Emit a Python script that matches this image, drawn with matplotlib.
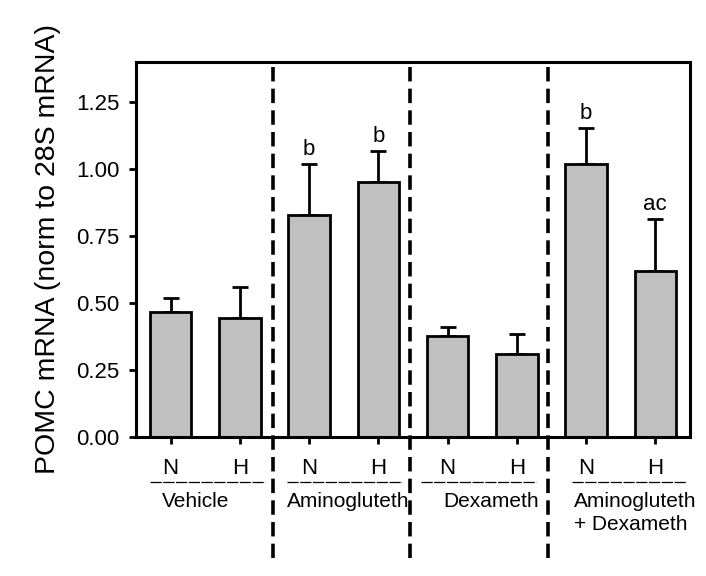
import numpy as np
import matplotlib
matplotlib.use('Agg')
import matplotlib.pyplot as plt

plt.rcParams['font.family'] = ['Liberation Sans', 'DejaVu Sans']

# Data
bar_labels = ['N', 'H', 'N', 'H', 'N', 'H', 'N', 'H']
values = [0.467, 0.445, 0.828, 0.953, 0.378, 0.311, 1.019, 0.619]
errors = [0.053, 0.116, 0.192, 0.113, 0.034, 0.074, 0.135, 0.196]
letters = ['', '', 'b', 'b', '', '', 'b', 'ac']
groups = ['Vehicle', 'Aminogluteth', 'Dexameth', 'Aminogluteth\n+ Dexameth']
yticks = [0.0, 0.25, 0.5, 0.75, 1.0, 1.25]

x = np.arange(len(values))

fig = plt.figure(figsize=(7.06, 5.76), dpi=100)
ax = fig.add_axes([0.1926, 0.2413, 0.7847, 0.6511])

ax.bar(x, values, width=0.6, color='#c0c0c0', edgecolor='black', linewidth=2, zorder=2)
ax.errorbar(x, values, yerr=[np.zeros(len(errors)), errors], fmt='none', ecolor='black',
            elinewidth=2, capsize=6, capthick=2, zorder=1)

for xi, v, e, t in zip(x, values, errors, letters):
    if t:
        ax.text(xi, v + e + 0.015, t, ha='center', va='bottom', fontsize=16)

ax.set_xlim(-0.5, 7.5)
ax.set_ylim(0, 1.4)
ax.set_yticks(yticks)
ax.set_yticklabels(['%.2f' % t for t in yticks], fontsize=16)
ax.set_xticks(x)
ax.set_xticklabels(bar_labels, fontsize=16)
ax.tick_params(axis='x', length=5, width=2, pad=10)
ax.tick_params(axis='y', length=5, width=2, pad=7)
for sp in ax.spines.values():
    sp.set_linewidth(2.2)

ax.set_ylabel('POMC mRNA (norm to 28S mRNA)', fontsize=20.5)
ax.yaxis.set_label_coords(-0.135, 0.5)

# group separators
for xs in [1.48, 3.46, 5.45]:
    ax.plot([xs, xs], [1.38, -0.45], color='black', linewidth=2.6, dashes=(4, 2),
            clip_on=False, zorder=3)

# group underlines and labels
under = [(-0.30, 1.36), (1.675, 3.34), (3.62, 5.27), (5.79, 7.44)]
label_x = [-0.12, 1.675, 3.93, 5.83]
for (a, b), lx, g in zip(under, label_x, groups):
    ax.plot([a, b], [-0.168, -0.168], color='black', linewidth=0.9, dashes=(9, 1.2), clip_on=False)
    ax.text(lx, -0.205, g, ha='left', va='top', fontsize=15, linespacing=1.25)

fig.savefig('out.png', dpi=100)
